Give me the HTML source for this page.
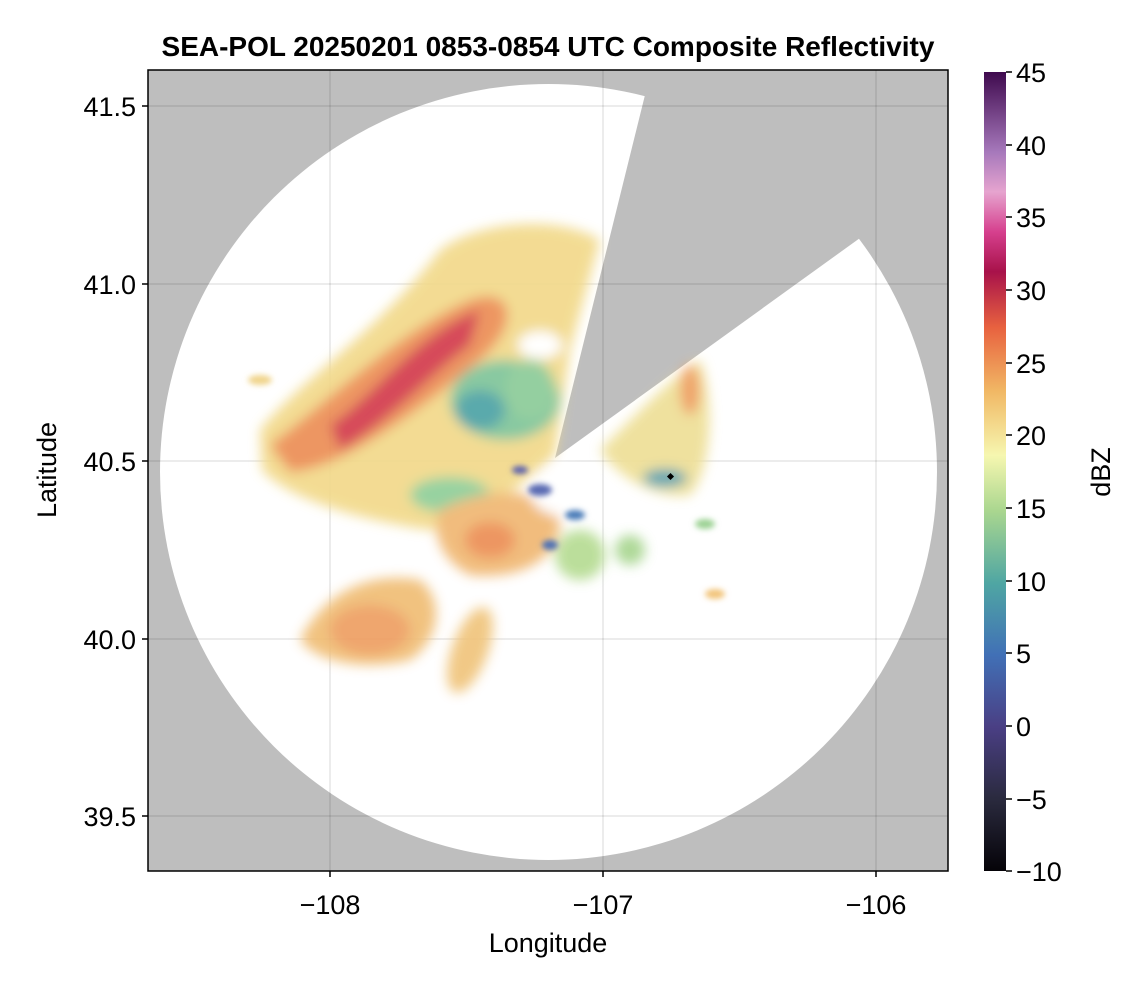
<!DOCTYPE html>
<html><head><meta charset="utf-8"><style>
body{margin:0;background:#fff;}
svg text{font-family:"Liberation Sans",sans-serif;}
</style></head><body>
<svg width="1146" height="990" viewBox="0 0 1146 990" xmlns="http://www.w3.org/2000/svg">
<defs>
<clipPath id="pc"><rect x="148" y="70" width="800" height="801"/></clipPath>
<filter id="bl" x="-30%" y="-30%" width="160%" height="160%"><feGaussianBlur stdDeviation="6"/></filter>
<filter id="bl2" x="-30%" y="-30%" width="160%" height="160%"><feGaussianBlur stdDeviation="3"/></filter>
<linearGradient id="cb" x1="0" y1="1" x2="0" y2="0">
<stop offset="0" stop-color="#050308"/>
<stop offset="0.09" stop-color="#2a2a3e"/>
<stop offset="0.18" stop-color="#4a3f84"/>
<stop offset="0.27" stop-color="#4170b6"/>
<stop offset="0.36" stop-color="#4fa6a3"/>
<stop offset="0.45" stop-color="#a9d68f"/>
<stop offset="0.52" stop-color="#f6f7b0"/>
<stop offset="0.6" stop-color="#f1b865"/>
<stop offset="0.68" stop-color="#e8623f"/>
<stop offset="0.75" stop-color="#a8124a"/>
<stop offset="0.8" stop-color="#d6408e"/>
<stop offset="0.85" stop-color="#e6a4cf"/>
<stop offset="0.9" stop-color="#a678bb"/>
<stop offset="1" stop-color="#3f0a4e"/>
</linearGradient>
</defs>
<text x="548" y="56" font-size="28" font-weight="bold" text-anchor="middle">SEA-POL 20250201 0853-0854 UTC Composite Reflectivity</text>
<g clip-path="url(#pc)">
<rect x="148" y="70" width="800" height="801" fill="#bebebe"/>
<ellipse cx="548.5" cy="472" rx="388.5" ry="388" fill="#fff"/>
<polygon points="555,458 645,95 660,30 1000,30 1000,137" fill="#bebebe"/>
<g stroke="#000" stroke-opacity="0.1" stroke-width="1.5">
<line x1="330" y1="70" x2="330" y2="871"/><line x1="603" y1="70" x2="603" y2="871"/><line x1="876" y1="70" x2="876" y2="871"/>
<line x1="148" y1="106" x2="948" y2="106"/><line x1="148" y1="284" x2="948" y2="284"/><line x1="148" y1="461" x2="948" y2="461"/><line x1="148" y1="639" x2="948" y2="639"/><line x1="148" y1="816" x2="948" y2="816"/>
</g>
<g filter="url(#bl)" opacity="0.92">
<path d="M260,430 C300,380 380,330 440,250 C480,220 560,215 600,240 L570,350 L555,455 C520,490 470,520 430,530 C360,520 290,500 262,470 Z" fill="#f2d98a"/>
<path d="M270,445 C330,400 400,330 470,300 C510,285 525,320 480,360 C420,410 340,470 290,472 Z" fill="#ec8e55"/>
<path d="M330,425 C370,400 420,330 480,310 L470,345 C430,375 380,430 340,450 Z" fill="#d33a4e"/>
<ellipse cx="505" cy="400" rx="55" ry="40" fill="#7fc59a"/>
<ellipse cx="480" cy="410" rx="25" ry="20" fill="#4da3a5"/>
<ellipse cx="530" cy="390" rx="25" ry="30" fill="#8ccb98"/>
<ellipse cx="450" cy="495" rx="40" ry="18" fill="#8fcf99"/>
<path d="M440,510 C480,490 540,480 560,520 C560,560 520,580 470,575 C440,560 430,530 440,510 Z" fill="#f0b772"/>
<ellipse cx="490" cy="540" rx="25" ry="18" fill="#ec8e55"/>
<path d="M300,640 C320,600 360,570 420,580 C445,600 440,640 410,660 C370,670 320,665 300,640 Z" fill="#f0bd74"/>
<ellipse cx="370" cy="630" rx="40" ry="25" fill="#ee9f62"/>
<ellipse cx="470" cy="650" rx="18" ry="45" fill="#f0c47c" transform="rotate(20 470 650)"/>
<path d="M600,450 C640,410 680,370 700,360 C715,400 712,470 690,495 C660,500 620,480 600,450 Z" fill="#eedf96"/>
<ellipse cx="665" cy="478" rx="22" ry="9" fill="#4d9fae"/>
<ellipse cx="690" cy="390" rx="10" ry="25" fill="#ee9c5f"/>
<ellipse cx="580" cy="555" rx="25" ry="25" fill="#b6dc93"/>
<ellipse cx="630" cy="550" rx="15" ry="15" fill="#a8d690"/>
<ellipse cx="560" cy="490" rx="30" ry="25" fill="#ffffff"/>
<ellipse cx="540" cy="345" rx="22" ry="14" fill="#ffffff"/>
</g>
<g filter="url(#bl2)">
<ellipse cx="540" cy="490" rx="12" ry="6" fill="#5a6bb2"/>
<ellipse cx="575" cy="515" rx="10" ry="5" fill="#4a7cb8"/>
<ellipse cx="520" cy="470" rx="8" ry="4" fill="#5a5fae"/>
<ellipse cx="550" cy="545" rx="8" ry="5" fill="#4d70b4"/>
<ellipse cx="705" cy="524" rx="10" ry="5" fill="#9bd193"/>
<ellipse cx="715" cy="594" rx="10" ry="5" fill="#f2c47a"/>
<ellipse cx="260" cy="380" rx="12" ry="5" fill="#f0d48a"/>
</g>
<rect x="668" y="474" width="5" height="5" fill="#000" transform="rotate(45 670.5 476.5)"/>
</g>
<rect x="148" y="70" width="800" height="801" fill="none" stroke="#000" stroke-width="1.5"/>
<g stroke="#000" stroke-width="1.5">
<line x1="330" y1="871" x2="330" y2="877"/><line x1="603" y1="871" x2="603" y2="877"/><line x1="876" y1="871" x2="876" y2="877"/>
<line x1="142" y1="106" x2="148" y2="106"/><line x1="142" y1="284" x2="148" y2="284"/><line x1="142" y1="461" x2="148" y2="461"/><line x1="142" y1="639" x2="148" y2="639"/><line x1="142" y1="816" x2="148" y2="816"/>
</g>
<g font-size="27" text-anchor="middle">
<text x="330" y="914">−108</text><text x="603" y="914">−107</text><text x="876" y="914">−106</text>
<text x="548" y="952">Longitude</text>
</g>
<g font-size="27" text-anchor="end">
<text x="136" y="116">41.5</text><text x="136" y="294">41.0</text><text x="136" y="471">40.5</text><text x="136" y="649">40.0</text><text x="136" y="826">39.5</text>
</g>
<text x="56" y="470" font-size="27" text-anchor="middle" transform="rotate(-90 56 470)">Latitude</text>
<rect x="984" y="72" width="22" height="799" fill="url(#cb)"/>
<g stroke="#000" stroke-width="1.5">
<line x1="1006" y1="72" x2="1012" y2="72"/><line x1="1006" y1="145" x2="1012" y2="145"/><line x1="1006" y1="217" x2="1012" y2="217"/><line x1="1006" y1="290" x2="1012" y2="290"/><line x1="1006" y1="363" x2="1012" y2="363"/><line x1="1006" y1="435" x2="1012" y2="435"/><line x1="1006" y1="508" x2="1012" y2="508"/><line x1="1006" y1="581" x2="1012" y2="581"/><line x1="1006" y1="653" x2="1012" y2="653"/><line x1="1006" y1="726" x2="1012" y2="726"/><line x1="1006" y1="799" x2="1012" y2="799"/><line x1="1006" y1="871" x2="1012" y2="871"/>
</g>
<g font-size="27">
<text x="1016" y="82">45</text><text x="1016" y="155">40</text><text x="1016" y="227">35</text><text x="1016" y="300">30</text><text x="1016" y="373">25</text><text x="1016" y="445">20</text><text x="1016" y="518">15</text><text x="1016" y="591">10</text><text x="1016" y="663">5</text><text x="1016" y="736">0</text><text x="1016" y="809">−5</text><text x="1016" y="881">−10</text>
</g>
<text x="1110" y="472" font-size="27" text-anchor="middle" transform="rotate(-90 1110 472)">dBZ</text>
</svg>
</body></html>
